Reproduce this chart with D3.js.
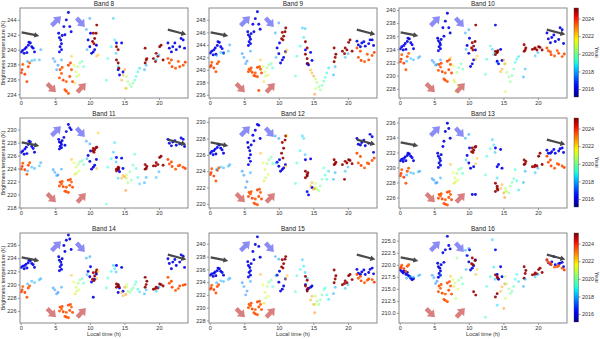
<!DOCTYPE html>
<html>
<head>
<meta charset="utf-8">
<script src="https://cdn.jsdelivr.net/npm/d3@7"></script>
<style>
  body { margin: 0; background: #fff; }
  text { font-family: "Liberation Sans", Arial, sans-serif; }
</style>
</head>
<body>
<script>
// observations shared by all bands: local time (h) and year
const times = [
  0.1,0.3,0.5,0.6,0.9,1.1,1.2,1.4,1.6,1.8,2.0,0.8,
  0.1,0.3,0.6,0.9,1.1,1.3,0.2,
  1.0,1.6,2.0,2.7,2.9,
  5.5,5.6,5.6,5.7,5.8,5.9,5.9,6.0,6.25,6.4,6.6,6.9,7.1,7.3,
  4.7,4.95,5.4,5.9,5.2,
  5.6,5.7,5.9,6.15,6.4,6.6,6.6,6.9,6.9,7.1,7.2,7.35,7.5,6.0,
  7.35,7.7,8.0,8.3,8.55,8.9,9.1,8.45,8.1,7.85,
  9.75,10.0,10.1,10.25,10.5,10.7,10.95,
  10.4,10.5,10.7,10.9,11.0,10.6,
  9.5,9.6,10.0,
  11.0,11.2,
  13.4,13.6,13.1,12.6,12.4,13.8,14.1,
  13.85,14.6,14.1,14.3,14.8,
  13.85,14.1,13.85,14.1,14.2,
  14.8,15.05,14.6,15.2,
  15.3,15.5,15.8,16.0,16.25,16.5,16.7,16.95,17.2,15.3,
  18.0,18.15,18.0,18.25,
  18.15,17.9,
  19.2,19.6,19.85,20.1,20.3,19.5,20.6,
  19.6,20.0,
  21.3,21.5,22.0,22.5,23.0,23.5,23.7,21.8,22.3,23.2,
  21.3,21.5,21.9,22.4,23.0,23.5,23.8,21.8,22.8
];
const years = [
  2015.9,2016.1,2015.9,2016.2,2015.9,2016.0,2016.1,2015.9,2016.0,2016.2,2015.9,2016.0,
  2023.5,2023.3,2023.6,2023.4,2023.5,2023.3,2023.6,
  2017.9,2018.1,2018.0,2018.2,2017.8,
  2016.0,2015.9,2016.1,2016.0,2015.9,2016.1,2016.0,2015.9,2016.1,2016.0,2015.9,2016.0,2016.1,2016.0,
  2017.6,2017.8,2017.5,2017.9,2017.7,
  2023.4,2023.5,2023.3,2023.6,2023.4,2023.5,2023.3,2023.4,2023.6,2023.5,2023.4,2023.3,2023.5,2023.4,
  2022.3,2021.5,2021.0,2020.5,2020.0,2019.6,2019.3,2021.2,2020.8,2022.0,
  2016.0,2015.9,2016.1,2016.0,2015.9,2016.1,2016.0,
  2025.0,2024.9,2025.0,2025.1,2025.0,2024.9,
  2017.9,2018.0,2017.8,
  2022.4,2022.2,
  2018.3,2018.6,2018.8,2019.0,2019.3,2018.2,2018.5,
  2016.1,2016.0,2016.1,2016.2,2016.0,
  2025.0,2024.9,2025.0,2025.1,2025.0,
  2022.6,2022.8,2022.5,2022.9,
  2020.8,2020.5,2020.2,2020.0,2019.7,2019.4,2019.0,2018.8,2018.5,2021.0,
  2025.0,2024.9,2025.1,2025.0,
  2018.0,2017.9,
  2025.0,2024.9,2025.0,2025.1,2025.0,2024.9,2025.0,
  2018.2,2018.0,
  2016.0,2015.9,2016.1,2016.0,2015.9,2016.1,2016.0,2015.9,2016.1,2016.0,
  2023.5,2023.4,2023.6,2023.3,2023.5,2023.4,2023.6,2023.5,2023.3
];

// brightness temperature (K) per band, same order as times
const tb8 = [
  239.7,239.9,239.5,240.1,239.6,240.6,241.0,240.9,240.4,240.2,239.7,240.3,
  236.9,238.0,236.7,235.7,237.7,238.2,237.3,
  238.4,238.5,238.6,238.6,240.0,
  242.2,241.6,239.7,240.4,241.3,240.0,240.8,241.9,243.1,242.0,244.0,245.0,243.1,242.4,
  238.8,238.4,237.9,238.6,237.3,
  236.2,237.3,236.8,235.9,234.6,234.4,235.7,234.1,237.9,236.4,238.2,237.3,235.7,237.6,
  239.1,237.9,237.0,237.7,238.2,238.4,237.7,236.6,236.4,235.5,
  241.3,240.4,242.2,239.5,239.7,240.0,240.6,
  241.1,242.2,241.5,242.2,243.3,240.8,
  242.7,240.0,244.2,
  239.1,239.3,
  244.2,241.3,240.4,238.8,235.9,239.5,237.7,
  240.9,240.9,237.3,236.6,237.0,
  240.4,240.0,238.6,238.2,237.5,
  236.6,237.3,235.9,234.8,
  236.4,235.7,235.3,235.0,235.5,235.9,236.4,237.0,237.5,234.8,
  240.2,238.6,238.2,238.8,
  237.9,237.3,
  238.8,239.5,239.1,240.4,240.6,238.4,238.6,
  238.6,239.3,
  240.9,240.2,240.4,240.0,240.4,241.3,240.2,239.7,240.9,241.5,
  238.8,238.2,237.7,237.5,237.7,237.9,238.3,238.6,238.4
];
const tb9 = [
  242.7,243.0,242.4,243.2,242.5,243.9,244.5,244.4,243.7,243.4,242.7,243.5,
  240.5,241.2,240.3,239.7,241.0,241.3,240.7,
  242.3,242.8,242.6,243.0,244.0,
  246.1,245.6,243.9,244.5,245.3,244.2,244.9,245.8,247.3,246.1,248.2,249.3,247.3,246.5,
  242.6,242.0,241.4,243.0,241.0,
  239.7,240.1,239.9,239.6,239.1,239.0,239.5,238.9,240.4,236.7,240.5,240.1,239.5,240.3,
  241.6,240.5,239.7,240.3,240.8,241.0,240.3,239.2,239.0,238.1,
  243.5,242.6,244.3,241.1,241.6,242.0,242.9,
  245.0,246.0,245.4,246.1,246.7,244.8,
  245.9,242.0,247.5,
  242.8,243.2,
  246.7,245.2,243.8,242.2,239.0,246.6,241.0,
  243.2,242.8,241.0,240.8,241.5,
  244.5,243.5,242.5,241.8,241.0,
  239.5,239.0,240.0,236.1,
  238.5,238.0,237.3,236.8,237.5,238.2,238.8,239.5,240.3,237.0,
  243.5,242.0,241.3,242.5,
  240.5,239.2,
  243.0,243.5,243.2,244.4,244.8,242.6,243.0,
  242.0,242.6,
  244.6,244.0,244.3,243.8,244.2,244.8,243.9,243.7,244.5,244.8,
  243.5,242.0,241.5,241.3,241.6,242.3,242.8,243.0,242.5
];
const tb10 = [
  234.1,234.4,233.9,234.6,234.0,235.2,235.7,235.6,235.0,234.7,234.1,234.9,
  232.1,233.2,231.9,230.9,232.9,233.4,232.5,
  232.2,232.6,232.4,232.7,232.9,
  235.7,235.3,233.8,234.4,235.0,234.1,234.7,235.5,237.3,236.0,238.3,239.5,237.3,236.5,
  232.3,232.0,231.7,232.4,231.6,
  230.8,231.7,231.3,230.6,229.5,229.3,230.4,229.1,232.2,230.9,232.4,231.7,230.4,231.9,
  232.7,231.5,229.0,230.5,231.2,231.8,231.0,228.5,227.6,229.3,
  234.6,233.4,235.7,231.4,231.8,232.4,233.9,
  234.2,235.0,234.5,235.2,237.7,233.9,
  236.5,234.0,237.0,
  232.5,233.0,
  234.0,233.2,234.5,232.5,230.2,233.5,232.0,
  237.7,234.0,232.2,231.8,232.3,
  233.7,233.6,233.2,233.5,233.8,
  231.0,232.4,230.6,231.8,
  231.8,230.5,229.8,229.1,230.0,231.0,232.0,232.5,232.9,227.6,
  234.7,233.9,233.7,234.2,
  231.0,229.8,
  234.0,234.2,233.9,234.4,234.3,234.1,233.9,
  233.0,233.5,
  236.5,235.6,235.8,235.2,235.5,237.0,234.9,235.0,236.2,237.3,
  234.2,233.8,233.2,233.0,233.4,232.9,233.3,233.6,233.8
];
const tb11 = [
  226.5,226.7,226.2,227.0,226.3,227.7,228.2,228.1,227.4,227.1,226.5,227.3,
  223.9,224.8,223.8,223.1,224.5,224.9,224.3,
  223.6,224.2,224.0,224.4,224.9,
  228.5,228.1,227.0,227.4,228.0,227.2,227.7,228.3,228.8,227.6,229.7,230.8,230.3,230.0,
  223.8,223.4,223.0,223.9,222.9,
  221.3,221.9,221.6,221.2,220.5,220.4,221.1,220.3,222.2,221.4,222.3,221.9,221.1,222.0,
  225.4,224.9,224.2,224.6,225.0,225.2,224.6,223.6,223.3,223.1,
  226.0,225.1,226.7,223.9,224.2,224.5,225.4,
  226.7,227.1,226.9,227.2,227.3,226.5,
  228.2,225.5,227.8,
  224.0,229.5,
  226.5,228.0,225.5,224.2,218.5,225.0,222.5,
  225.7,225.6,223.8,223.5,224.0,
  223.9,224.2,223.6,223.9,224.1,
  222.9,222.7,222.5,220.6,
  222.5,221.8,223.5,222.2,224.5,226.2,224.0,222.6,221.6,223.0,
  224.6,224.0,223.9,224.3,
  222.6,221.8,
  224.4,224.9,224.6,225.7,225.9,224.4,224.5,
  222.6,223.5,
  228.5,227.9,228.1,227.6,227.8,228.5,227.4,227.5,228.3,228.7,
  225.4,224.7,224.3,223.9,224.5,224.2,224.0,225.0,224.4
];
const tb12 = [
  226.2,226.4,226.0,226.5,226.1,226.9,227.3,227.2,226.8,226.6,226.2,226.7,
  223.6,224.3,223.4,222.8,224.1,224.4,223.8,
  224.2,224.5,224.4,224.6,224.8,
  227.5,226.9,224.8,225.6,226.5,225.2,226.0,227.2,228.4,227.7,229.0,229.7,229.6,228.0,
  224.0,223.5,222.7,223.8,222.0,
  220.9,221.4,221.2,220.7,220.1,220.0,220.6,219.9,221.7,220.9,221.8,221.4,220.6,221.5,
  226.2,225.0,224.2,224.9,225.4,225.7,224.9,223.6,223.2,222.8,
  225.1,224.6,225.4,224.0,224.2,224.4,224.8,
  226.2,227.5,226.8,227.8,228.3,225.6,
  228.3,225.0,228.0,
  224.6,228.3,
  228.3,228.0,226.5,225.0,222.5,226.0,223.5,
  225.4,225.5,221.5,221.1,222.0,
  224.0,223.6,223.2,223.4,223.8,
  222.6,221.8,222.2,221.9,
  222.5,221.8,221.6,222.2,223.0,224.4,223.5,223.0,224.0,222.0,
  225.4,224.9,224.8,225.1,
  223.8,223.0,
  224.8,225.2,225.0,225.4,225.3,223.0,224.9,
  224.0,224.5,
  228.0,227.3,227.5,227.1,227.4,228.2,226.3,227.2,227.8,228.5,
  226.2,225.0,224.7,224.4,224.9,225.3,225.6,225.8,225.0
];
const tb13 = [
  230.9,231.1,230.8,231.2,230.9,231.6,231.9,231.8,231.5,231.3,230.9,231.4,
  228.9,229.7,228.7,227.9,229.5,229.9,229.2,
  229.0,229.3,229.2,229.4,229.5,
  231.9,231.5,230.0,230.6,231.2,230.3,230.9,231.7,232.8,233.5,234.8,235.9,235.2,233.9,
  228.5,228.3,228.0,228.6,227.9,
  225.9,226.4,226.2,225.8,225.2,225.1,225.7,225.0,226.7,226.0,226.8,226.4,225.7,226.5,
  230.4,229.3,228.6,229.2,229.7,229.9,229.2,228.3,228.1,227.9,
  231.6,230.6,232.6,229.9,226.4,230.1,226.4,
  232.1,232.6,232.3,232.7,232.8,232.0,
  233.9,231.0,234.4,
  230.5,231.2,
  233.7,233.0,232.5,231.5,229.0,232.0,228.6,
  232.6,232.4,230.1,230.4,229.9,
  227.9,227.5,226.8,227.2,227.0,
  227.7,226.6,227.2,226.0,
  227.2,226.8,226.6,227.5,228.0,228.5,229.7,228.2,227.0,226.8,
  231.0,230.5,230.4,230.8,
  229.5,228.0,
  230.1,230.3,230.2,231.5,231.9,230.1,230.4,
  229.3,229.9,
  232.3,231.9,232.1,231.9,232.2,232.6,232.0,231.9,232.4,232.5,
  231.5,230.7,230.2,229.9,230.4,230.2,230.0,231.0,230.5
];
const tb14 = [
  232.6,232.8,232.4,232.9,232.5,233.3,233.7,233.6,233.2,233.0,232.6,233.1,
  228.9,229.7,228.8,228.1,229.5,229.8,229.2,
  230.1,230.5,230.3,230.7,230.9,
  234.2,233.7,232.1,232.7,233.4,232.3,233.0,233.9,235.9,235.0,236.7,237.5,236.9,235.3,
  229.5,229.2,228.8,229.6,228.6,
  226.0,226.6,226.3,225.9,225.2,225.1,225.8,225.0,226.9,226.1,227.0,226.6,225.8,226.7,
  231.4,230.4,229.6,230.2,230.7,230.9,230.2,229.2,229.0,228.6,
  232.0,231.2,232.7,230.4,228.1,230.8,231.6,
  230.8,231.8,231.3,231.9,232.2,230.6,
  234.0,231.5,234.2,
  230.9,232.0,
  232.9,232.4,232.0,231.0,229.5,231.9,230.0,
  232.9,232.6,228.8,229.5,229.0,
  230.1,229.8,229.6,230.0,229.7,
  228.3,229.6,228.8,228.5,
  229.6,229.0,228.8,229.2,229.5,230.0,230.4,229.3,228.9,230.0,
  231.1,230.0,229.6,230.5,
  229.2,228.6,
  229.3,229.6,229.5,230.1,230.0,229.4,229.8,
  229.0,229.6,
  233.9,233.2,233.4,232.9,233.4,234.3,232.6,232.4,233.8,234.5,
  231.1,230.2,229.6,229.1,229.8,229.9,230.0,230.5,229.4
];
const tb15 = [
  235.1,235.3,234.9,235.4,235.0,235.8,236.2,236.1,235.7,235.5,235.1,235.6,
  232.9,233.5,232.8,232.3,233.3,233.6,233.1,
  233.9,234.2,234.1,234.4,234.6,
  237.2,236.6,234.8,235.5,236.3,235.1,235.8,236.9,238.8,237.5,239.9,241.1,239.6,237.9,
  233.9,233.3,232.6,234.1,232.0,
  230.0,230.5,230.3,229.8,229.2,229.0,229.7,228.9,230.9,230.1,231.0,230.5,229.7,230.7,
  235.2,233.6,232.4,233.3,234.0,234.3,233.3,231.8,231.5,230.7,
  235.1,234.0,235.7,232.6,232.9,233.4,234.5,
  236.4,237.5,236.9,237.6,238.0,236.2,
  238.0,235.0,237.6,
  234.5,235.0,
  237.5,236.5,236.0,235.0,232.5,235.5,234.6,
  233.6,233.2,232.8,233.0,233.4,
  234.9,234.3,233.4,232.6,233.0,
  231.8,230.5,231.2,229.2,
  231.8,231.0,230.5,231.2,232.0,232.8,233.1,232.0,231.3,230.5,
  235.9,234.5,233.9,235.0,
  233.2,232.2,
  233.6,234.2,233.9,235.0,235.2,233.8,234.4,
  233.0,233.6,
  236.0,235.4,235.6,235.2,235.5,236.2,235.3,235.2,235.9,236.0,
  235.2,234.6,234.2,233.9,234.5,234.4,234.0,234.9,234.3
];
const tb16 = [
  218.9,218.6,218.3,218.7,218.0,218.4,217.8,217.6,217.2,216.9,217.1,218.5,
  219.3,219.9,219.2,218.6,219.7,220.0,219.5,
  217.2,217.5,217.4,217.7,217.9,
  220.3,219.6,217.4,218.2,219.3,217.8,218.7,220.0,222.5,220.5,223.1,225.9,224.0,223.3,
  217.8,217.3,216.6,217.9,216.1,
  214.4,215.6,215.1,214.1,212.8,212.6,213.9,212.3,216.2,214.7,216.5,215.6,213.9,215.9,
  217.6,216.9,216.2,221.4,216.8,217.3,216.0,214.9,213.0,215.5,
  221.9,220.6,223.1,218.9,219.3,219.8,221.0,
  220.2,221.4,214.4,220.9,213.7,220.0,
  223.0,219.0,223.4,
  218.0,219.0,
  225.2,219.5,217.5,215.5,209.1,217.0,211.6,
  223.1,219.6,218.0,217.0,217.5,
  217.9,217.5,213.3,214.0,217.2,
  215.4,210.9,214.5,216.0,
  217.5,216.0,215.0,214.0,214.5,215.5,217.0,218.0,216.5,213.0,
  219.6,218.2,217.2,218.8,
  217.0,215.5,
  217.9,218.3,218.1,219.0,219.3,218.0,218.4,
  217.5,218.0,
  221.0,220.4,220.6,220.0,220.2,220.5,219.6,220.1,221.7,220.3,
  221.0,220.5,220.0,219.5,219.8,219.3,218.9,220.3,219.6
];

const bandNames = ['Band 8','Band 9','Band 10','Band 11','Band 12','Band 13','Band 14','Band 15','Band 16'];
const bandTemps = [tb8, tb9, tb10, tb11, tb12, tb13, tb14, tb15, tb16];
const yLimits = [
  [233.5,245.6],[235.5,249.9],[226.6,240.3],
  [217.9,231.8],[219.5,230.5],[224.6,236.6],
  [224.2,237.8],[227.6,241.7],[207.9,226.6]
];
const yTickVals = [
  [234,236,238,240,242,244],
  [236,238,240,242,244,246,248],
  [228,230,232,234,236,238,240],
  [218,220,222,224,226,228,230],
  [220,222,224,226,228,230],
  [226,228,230,232,234,236],
  [226,228,230,232,234,236],
  [228,230,232,234,236,238,240],
  [210,212.5,215,217.5,220,222.5,225]
];
const xTickVals = [0,5,10,15,20];
const xLimits = [-0.1, 24.2];
const yearLimits = [2015.1, 2025.2];
const yearTicks = [2016,2018,2020,2022,2024];

// arrows drawn on every panel (axes fractions: tail x, tail y, tip x, tip y)
const arrowNotes = [
  {kind:'gray', f:[0.01,0.27,0.115,0.31]},
  {kind:'gray', f:[0.88,0.24,0.99,0.295]},
  {kind:'blue', f:[0.188,0.196,0.244,0.093]},
  {kind:'blue', f:[0.337,0.111,0.386,0.211]},
  {kind:'red',  f:[0.162,0.841,0.214,0.937]},
  {kind:'red',  f:[0.341,0.937,0.392,0.833]}
];

for (let i = 0; i < bandTemps.length; i++) {
  if (bandTemps[i].length !== times.length) throw new Error(bandNames[i] + ' length ' + bandTemps[i].length + ' vs ' + times.length);
}
if (years.length !== times.length) throw new Error('years length ' + years.length);

// jet colormap
const jr = d3.scaleLinear().domain([0,0.35,0.66,0.89,1]).range([0,0,1,1,0.5]).clamp(true);
const jg = d3.scaleLinear().domain([0,0.125,0.375,0.64,0.91,1]).range([0,0,1,1,0,0]).clamp(true);
const jb = d3.scaleLinear().domain([0,0.11,0.34,0.65,1]).range([0.5,1,1,0,0]).clamp(true);
const jet = t => d3.rgb(jr(t)*255, jg(t)*255, jb(t)*255).formatHex();
const yearNorm = d3.scaleLinear().domain(yearLimits).range([0,1]).clamp(true);
const yearColor = y => jet(yearNorm(y));
// mid-period years look washed out in the original
const yearAlpha = y => (y > 2017 && y < 2023) ? 0.5 : 0.9;

const W = 600, H = 339;
const colX = [20, 209, 399];
const rowY = [8, 118, 233];
const axW = 168, axH = 90;

const svg = d3.select('body').append('svg')
  .attr('width', W).attr('height', H);

const arrowStyle = {
  gray: {fill:'#404040', op:0.95, sw:2.2, hw:5.5, hl:5},
  blue: {fill:'#7878f4', op:0.85, sw:4.5, hw:10, hl:6.5},
  red:  {fill:'#d46868', op:0.85, sw:4.5, hw:10, hl:6.5}
};

function arrowPoly(x0, y0, x1, y1, s) {
  const dx = x1 - x0, dy = y1 - y0, L = Math.hypot(dx, dy);
  const ux = dx / L, uy = dy / L, px = -uy, py = ux;
  const bx = x1 - ux * s.hl, by = y1 - uy * s.hl;
  return [
    [x0 + px*s.sw/2, y0 + py*s.sw/2],
    [bx + px*s.sw/2, by + py*s.sw/2],
    [bx + px*s.hw/2, by + py*s.hw/2],
    [x1, y1],
    [bx - px*s.hw/2, by - py*s.hw/2],
    [bx - px*s.sw/2, by - py*s.sw/2],
    [x0 - px*s.sw/2, y0 - py*s.sw/2]
  ].map(p => p.join(',')).join(' ');
}

const obs = times.map((t, i) => ({t: t, yr: years[i], i: i}));

bandNames.forEach((name, b) => {
  const row = Math.floor(b / 3), col = b % 3;
  const x = d3.scaleLinear().domain(xLimits).range([0, axW]);
  const y = d3.scaleLinear().domain(yLimits[b]).range([axH, 0]);
  const temps = bandTemps[b];

  const g = svg.append('g')
    .attr('transform', `translate(${colX[col]},${rowY[row]})`);

  const clipId = 'clip' + b;
  g.append('clipPath').attr('id', clipId)
    .append('rect').attr('width', axW).attr('height', axH);

  g.append('g').attr('clip-path', `url(#${clipId})`)
    .selectAll('circle')
    .data(obs)
    .enter()
    .append('circle')
    .attr('cx', d => x(d.t))
    .attr('cy', d => y(temps[d.i]))
    .attr('r', 1.45)
    .attr('fill', d => yearColor(d.yr))
    .attr('fill-opacity', d => yearAlpha(d.yr));

  // annotation arrows
  g.selectAll('polygon')
    .data(arrowNotes)
    .enter()
    .append('polygon')
    .attr('points', d => arrowPoly(d.f[0]*axW, d.f[1]*axH, d.f[2]*axW, d.f[3]*axH, arrowStyle[d.kind]))
    .attr('fill', d => arrowStyle[d.kind].fill)
    .attr('fill-opacity', d => arrowStyle[d.kind].op);

  const xAxis = g.append('g')
    .attr('transform', `translate(0,${axH})`)
    .call(d3.axisBottom(x).tickValues(xTickVals).tickSize(2).tickPadding(1.5));
  const yAxis = g.append('g')
    .call(d3.axisLeft(y).tickValues(yTickVals[b]).tickSize(2).tickPadding(1.5)
      .tickFormat(b === 8 ? d3.format('.1f') : d3.format('d')));
  [xAxis, yAxis].forEach(a => {
    a.select('.domain').remove();
    a.selectAll('line').attr('stroke', '#555').attr('stroke-width', 0.6);
    a.selectAll('text').attr('font-size', 5.6).attr('fill', '#333');
  });

  g.append('rect')
    .attr('width', axW).attr('height', axH)
    .attr('fill', 'none')
    .attr('stroke', '#8a8a8a')
    .attr('stroke-width', 1);

  g.append('text')
    .attr('x', axW / 2).attr('y', -2.5)
    .attr('text-anchor', 'middle')
    .attr('font-size', 6.4)
    .attr('fill', '#222')
    .text(name);

  if (col === 0) {
    g.append('text')
      .attr('transform', `translate(${-15},${axH/2}) rotate(-90)`)
      .attr('text-anchor', 'middle')
      .attr('font-size', 5.4)
      .attr('fill', '#333')
      .text('Brightness temperature (K)');
  }
  if (row === 2) {
    g.append('text')
      .attr('x', axW / 2).attr('y', axH + 12.5)
      .attr('text-anchor', 'middle')
      .attr('font-size', 5.6)
      .attr('fill', '#333')
      .text('Local time (h)');
  }
});

// colour bars, one per row
const defs = svg.append('defs');
const grad = defs.append('linearGradient').attr('id', 'jetGrad')
  .attr('x1', 0).attr('y1', 1).attr('x2', 0).attr('y2', 0);
grad.selectAll('stop')
  .data(d3.range(0, 1.0001, 0.05))
  .enter()
  .append('stop')
  .attr('offset', d => d)
  .attr('stop-color', d => jet(d));

rowY.forEach(ry => {
  const cb = svg.append('g').attr('transform', `translate(574,${ry})`);
  const cy = d3.scaleLinear().domain(yearLimits).range([axH - 1, 0]);
  cb.append('rect')
    .attr('width', 4.5).attr('height', axH - 1)
    .attr('fill', 'url(#jetGrad)')
    .attr('stroke', '#444').attr('stroke-width', 0.4);
  const ax = cb.append('g')
    .attr('transform', 'translate(4.5,0)')
    .call(d3.axisRight(cy).tickValues(yearTicks).tickFormat(d3.format('d')).tickSize(2).tickPadding(1.5));
  ax.select('.domain').remove();
  ax.selectAll('line').attr('stroke', '#555').attr('stroke-width', 0.6);
  ax.selectAll('text').attr('font-size', 5.4).attr('fill', '#333');
  cb.append('text')
    .attr('transform', `translate(21,${(axH - 1)/2}) rotate(90)`)
    .attr('text-anchor', 'middle')
    .attr('font-size', 5.6)
    .attr('fill', '#333')
    .text('Year');
});
</script>
</body>
</html>
